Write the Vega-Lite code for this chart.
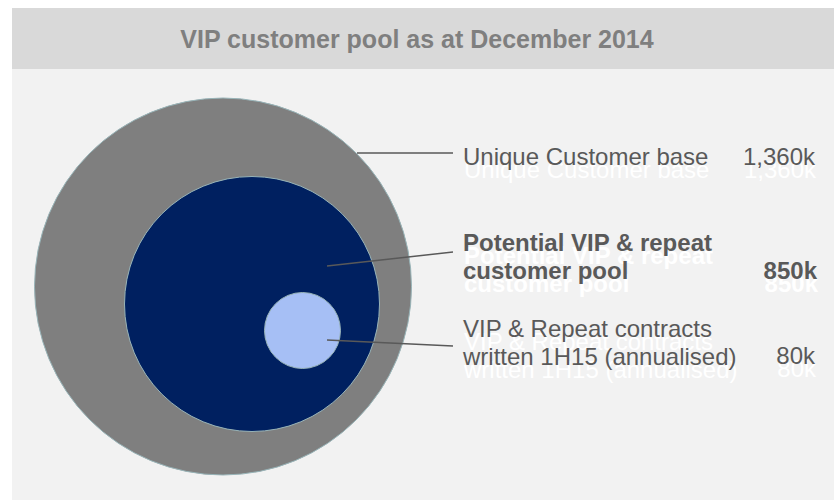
{
  "$schema": "https://vega.github.io/schema/vega-lite/v6.json",
  "background": "#ffffff",
  "padding": {"left": 12, "top": 8, "right": 0, "bottom": 0},
  "autosize": {"type": "pad"},
  "spacing": 0,
  "bounds": "flush",
  "config": {"view": {"stroke": null}, "font": "Liberation Sans"},
  "datasets": {
    "circles": [
      {"segment": "Unique Customer base", "value": 1360, "cx": 223, "cy": 286.5},
      {"segment": "Potential VIP & repeat customer pool", "value": 850, "cx": 252, "cy": 304},
      {"segment": "VIP & Repeat contracts written 1H15 (annualised)", "value": 80, "cx": 302.5, "cy": 330.5}
    ],
    "leaders": [
      {"x": 357, "y": 153, "x2": 453, "y2": 153},
      {"x": 327, "y": 266, "x2": 453, "y2": 252},
      {"x": 327, "y": 340, "x2": 453, "y2": 346}
    ],
    "labels": [
      {"text": "Unique Customer base", "x": 463, "y": 165, "bold": false, "kind": "label"},
      {"text": "Potential VIP & repeat\ncustomer pool", "x": 463, "y": 251, "bold": true, "kind": "label"},
      {"text": "VIP & Repeat contracts\nwritten 1H15 (annualised)", "x": 463, "y": 337, "bold": false, "kind": "label"},
      {"text": "1,360k", "x": 815, "y": 165, "bold": false, "kind": "value"},
      {"text": "850k", "x": 817, "y": 279, "bold": true, "kind": "value"},
      {"text": "80k", "x": 815, "y": 364, "bold": false, "kind": "value"}
    ]
  },
  "vconcat": [
    {
      "width": 822,
      "height": 61,
      "view": {"fill": "#d9d9d9", "stroke": null},
      "data": {"values": [{"title": "VIP customer pool as at December 2014", "x": 417, "y": 48}]},
      "mark": {"type": "text", "fontSize": 25, "fontWeight": "bold", "color": "#7f7f7f", "align": "center", "baseline": "alphabetic"},
      "encoding": {
        "x": {"field": "x", "type": "quantitative", "scale": {"domain": [12, 834], "nice": false, "zero": false}, "axis": null},
        "y": {"field": "y", "type": "quantitative", "scale": {"domain": [8, 69], "reverse": true, "nice": false, "zero": false}, "axis": null},
        "text": {"field": "title"}
      }
    },
    {
      "width": 822,
      "height": 431,
      "view": {"fill": "#f2f2f2", "stroke": null},
      "encoding": {
        "x": {"field": "x", "type": "quantitative", "scale": {"domain": [12, 834], "nice": false, "zero": false}, "axis": null},
        "y": {"field": "y", "type": "quantitative", "scale": {"domain": [69, 500], "reverse": true, "nice": false, "zero": false}, "axis": null}
      },
      "layer": [
        {
          "data": {"name": "circles"},
          "mark": {"type": "point", "shape": "circle", "filled": true, "opacity": 1, "stroke": "#98b4b8", "strokeWidth": 1},
          "encoding": {
            "x": {"field": "cx", "type": "quantitative"},
            "y": {"field": "cy", "type": "quantitative"},
            "size": {"field": "value", "type": "quantitative", "scale": {"domain": [80, 850, 1360], "range": [5776, 65025, 142129]}, "legend": null},
            "color": {"field": "segment", "type": "nominal", "scale": {"domain": ["Unique Customer base", "Potential VIP & repeat customer pool", "VIP & Repeat contracts written 1H15 (annualised)"], "range": ["#7f7f7f", "#002060", "#a6bff5"]}, "legend": null}
          }
        },
        {
          "data": {"name": "leaders"},
          "mark": {"type": "rule", "color": "#595959", "strokeWidth": 1.5},
          "encoding": {
            "x2": {"field": "x2"},
            "y2": {"field": "y2"}
          }
        },
        {
          "data": {"name": "labels"},
          "transform": [{"filter": "datum.kind === 'label' && !datum.bold"}],
          "mark": {"type": "text", "fontSize": 24, "color": "#ffffff", "align": "left", "baseline": "alphabetic", "dy": 13, "dx": 1, "lineBreak": "\n", "lineHeight": 27.5},
          "encoding": {"text": {"field": "text"}}
        },
        {
          "data": {"name": "labels"},
          "transform": [{"filter": "datum.kind === 'label' && datum.bold"}],
          "mark": {"type": "text", "fontSize": 24, "fontWeight": "bold", "color": "#ffffff", "align": "left", "baseline": "alphabetic", "dy": 13, "dx": 1, "lineBreak": "\n", "lineHeight": 27.5},
          "encoding": {"text": {"field": "text"}}
        },
        {
          "data": {"name": "labels"},
          "transform": [{"filter": "datum.kind === 'value' && !datum.bold"}],
          "mark": {"type": "text", "fontSize": 24, "color": "#ffffff", "align": "right", "baseline": "alphabetic", "dy": 13, "dx": 1},
          "encoding": {"text": {"field": "text"}}
        },
        {
          "data": {"name": "labels"},
          "transform": [{"filter": "datum.kind === 'value' && datum.bold"}],
          "mark": {"type": "text", "fontSize": 24, "fontWeight": "bold", "color": "#ffffff", "align": "right", "baseline": "alphabetic", "dy": 13, "dx": 1},
          "encoding": {"text": {"field": "text"}}
        },
        {
          "data": {"name": "labels"},
          "transform": [{"filter": "datum.kind === 'label' && !datum.bold"}],
          "mark": {"type": "text", "fontSize": 24, "color": "#595959", "align": "left", "baseline": "alphabetic", "lineBreak": "\n", "lineHeight": 27.5},
          "encoding": {"text": {"field": "text"}}
        },
        {
          "data": {"name": "labels"},
          "transform": [{"filter": "datum.kind === 'label' && datum.bold"}],
          "mark": {"type": "text", "fontSize": 24, "fontWeight": "bold", "color": "#595959", "align": "left", "baseline": "alphabetic", "lineBreak": "\n", "lineHeight": 27.5},
          "encoding": {"text": {"field": "text"}}
        },
        {
          "data": {"name": "labels"},
          "transform": [{"filter": "datum.kind === 'value' && !datum.bold"}],
          "mark": {"type": "text", "fontSize": 24, "color": "#595959", "align": "right", "baseline": "alphabetic"},
          "encoding": {"text": {"field": "text"}}
        },
        {
          "data": {"name": "labels"},
          "transform": [{"filter": "datum.kind === 'value' && datum.bold"}],
          "mark": {"type": "text", "fontSize": 24, "fontWeight": "bold", "color": "#595959", "align": "right", "baseline": "alphabetic"},
          "encoding": {"text": {"field": "text"}}
        }
      ]
    }
  ]
}
